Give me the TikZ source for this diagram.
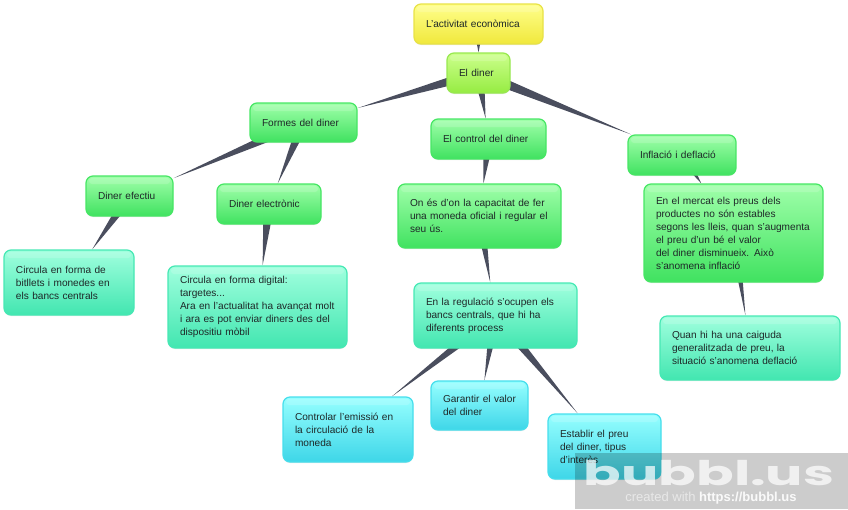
\documentclass[tikz,border=0pt]{standalone}
\usepackage{fontspec}
\setmainfont{Liberation Sans}
\newfontfamily\logofont{Poppins}
\usepackage{xcolor}
\usetikzlibrary{calc, shadows, backgrounds}
\definecolor{linkgray}{RGB}{74,78,94}
\definecolor{inkgray}{RGB}{30,40,40}
\tikzset{
  bubble/.style={rounded corners=7pt, inner xsep=12pt, inner ysep=0pt, align=left,
    line width=1.2pt, font=\fontsize{10.1}{13}\selectfont, text=inkgray,
    drop shadow={opacity=0.18, shadow xshift=0pt, shadow yshift=-1pt},
    path picture={\fill[white, opacity=0.16, rounded corners=3pt]
      ($(path picture bounding box.north west)+(3pt,-2pt)$) rectangle
      ($(path picture bounding box.north east)+(-3pt,-8pt)$);}},
  yellowbox/.style={bubble, draw={rgb,255:red,232;green,226;blue,70},
    top color={rgb,255:red,255;green,255;blue,140}, middle color={rgb,255:red,255;green,255;blue,100},
    bottom color={rgb,255:red,240;green,232;blue,60}},
  limebox/.style={bubble, draw={rgb,255:red,152;green,232;blue,80},
    top color={rgb,255:red,204;green,255;blue,140}, middle color={rgb,255:red,176;green,255;blue,100},
    bottom color={rgb,255:red,150;green,236;blue,66}},
  greenbox/.style={bubble, draw={rgb,255:red,70;green,230;blue,100},
    top color={rgb,255:red,160;green,255;blue,170}, middle color={rgb,255:red,112;green,255;blue,128},
    bottom color={rgb,255:red,64;green,226;blue,96}},
  tealbox/.style={bubble, draw={rgb,255:red,70;green,232;blue,180},
    top color={rgb,255:red,160;green,255;blue,222}, middle color={rgb,255:red,116;green,255;blue,204},
    bottom color={rgb,255:red,66;green,230;blue,176}},
  cyanbox/.style={bubble, draw={rgb,255:red,70;green,222;blue,236},
    top color={rgb,255:red,150;green,255;blue,255}, middle color={rgb,255:red,104;green,248;blue,255},
    bottom color={rgb,255:red,62;green,214;blue,232}},
  link/.style={fill=linkgray}
}
\newcommand{\taper}[2]{%
  \fill[link] let \p1=(#1), \p2=(#2), \n1={atan2(\y1-\y2,\x1-\x2)} in
    ($(#1)!5.5pt!90:(#2)$) -- ($(#1)!5.5pt!-90:(#2)$) -- (#2.\n1) -- cycle;}

\begin{document}
\begin{tikzpicture}[x=1pt, y=-1pt]
  \useasboundingbox (0,0) rectangle (848,509);

  % top of the map
  \node[yellowbox, text width=105pt, minimum height=40pt] (activitat) at (478.5,24) {L'activitat econòmica};
  \node[limebox, text width=39pt, minimum height=40pt] (diner) at (478.5,73) {El diner};

  % second level
  \node[greenbox, text width=83pt, minimum height=39pt] (formes) at (303.5,122.5) {Formes del diner};
  \node[greenbox, text width=91pt, minimum height=40pt] (control) at (488.5,139) {El control del diner};
  \node[greenbox, text width=84pt, minimum height=40pt] (inflacio) at (682,155) {Inflació i deflació};

  % third level
  \node[greenbox, text width=63pt, minimum height=40pt] (efectiu) at (129.5,196) {Diner efectiu};
  \node[greenbox, text width=80pt, minimum height=40pt] (electronic) at (269,204) {Diner electrònic};
  \node[greenbox, text width=139pt, minimum height=64pt] (capacitat) at (479.5,216) {On és d'on la capacitat de fer\\una moneda oficial i regular el\\seu ús.};
  \node[greenbox, text width=155pt, minimum height=98pt] (mercat) at (733.5,233) {En el mercat els preus dels\\productes no són estables\\segons les lleis, quan s'augmenta\\el preu d'un bé el valor\\del diner disminueix. Això\\s'anomena inflació};

  % fourth level
  \node[tealbox, text width=106pt, minimum height=65pt] (bitllets) at (69,282.5) {Circula en forma de\\bitllets i monedes en\\els bancs centrals};
  \node[tealbox, text width=155pt, minimum height=82pt] (digital) at (257.5,307) {Circula en forma digital:\\targetes...\\Ara en l'actualitat ha avançat molt\\i ara es pot enviar diners des del\\dispositiu mòbil};
  \node[tealbox, text width=139pt, minimum height=65pt] (regulacio) at (495.5,315.5) {En la regulació s'ocupen els\\bancs centrals, que hi ha\\diferents process};
  \node[tealbox, text width=156pt, minimum height=64pt] (deflacio) at (750,348) {Quan hi ha una caiguda\\generalitzada de preu, la\\situació s'anomena deflació};

  % last level
  \node[cyanbox, text width=106pt, minimum height=65pt] (emissio) at (348,429.5) {Controlar l'emissió en\\la circulació de la\\moneda};
  \node[cyanbox, text width=73pt, minimum height=49pt] (garantir) at (479.5,405.5) {Garantir el valor\\del diner};
  \node[cyanbox, text width=89pt, minimum height=65pt] (establir) at (604.5,446.5) {Establir el preu\\del diner, tipus\\d'interès};

  % links
  \begin{scope}[on background layer]
    \foreach \a/\b in {activitat/diner, diner/formes, diner/control, diner/inflacio,
                       formes/efectiu, formes/electronic, control/capacitat, inflacio/mercat,
                       efectiu/bitllets, electronic/digital, capacitat/regulacio, mercat/deflacio,
                       regulacio/emissio, regulacio/garantir, regulacio/establir}
      \taper{\a}{\b};
  \end{scope}

  % watermark
  \fill[black, opacity=0.2] (575,453) rectangle (848,509);
  \node[text=white, opacity=0.72, inner sep=0pt, font=\logofont\bfseries\fontsize{34}{34}\selectfont, xscale=1.63] (logo) at (709,473.5) {bubbl.us};
  \node[text=white, opacity=0.9, inner sep=0pt, font=\fontsize{13}{14}\selectfont] (credit) at (711,498) {\textcolor{white!92!black}{created with} \textbf{https://bubbl.us}};
\end{tikzpicture}
\end{document}
